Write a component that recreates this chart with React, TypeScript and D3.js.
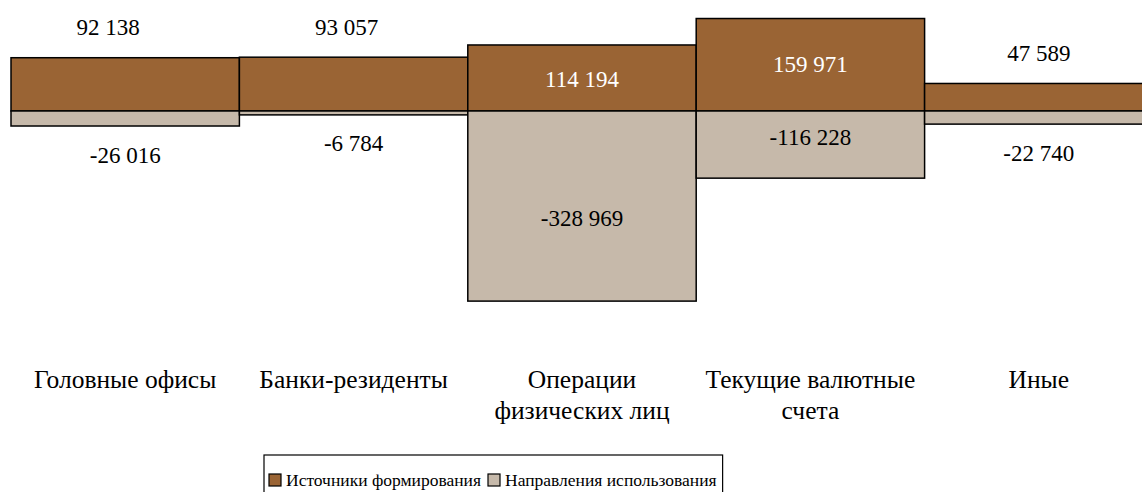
import React, { useLayoutEffect, useRef, useState } from "react";
import * as d3 from "d3";

const WIDTH = 1142;
const HEIGHT = 492;
const TXT = { fontFamily: "Liberation Serif" };

const categories = [
  ["Головные офисы"],
  ["Банки-резиденты"],
  ["Операции", "физических лиц"],
  ["Текущие валютные", "счета"],
  ["Иные"],
];
const sources = [92138, 93057, 114194, 159971, 47589];
const uses = [-26016, -6784, -328969, -116228, -22740];
const seriesNames = ["Источники формирования", "Направления использования"];
const COLORS = ["#9a6434", "#c6b9aa"];

// hand-moved data labels in the original chart: [series, index] -> [dx, dy]
const LABEL_NUDGE: Record<string, [number, number]> = {
  "0-0": [-17, 0],
  "0-1": [-7, 0],
  "0-2": [0, 2],
  "1-2": [0, 12],
  "1-3": [0, -7],
};

const ru = d3.formatLocale({
  decimal: ",",
  thousands: " ",
  grouping: [3],
  currency: ["", ""],
  minus: "-",
});
const fmt = ru.format(",d");

export default function App() {
  const keys = categories.map((c) => c.join(" "));
  const x = d3.scaleBand().domain(keys).range([11, 1153]).padding(0);
  const y = d3.scaleLinear().domain([-330000, 160000]).range([301.7, 18.5]);

  const itemRefs = useRef<(SVGTextElement | null)[]>([]);
  const [textW, setTextW] = useState([180, 200]);
  useLayoutEffect(() => {
    setTextW(itemRefs.current.map((t) => (t ? t.getComputedTextLength() : 200)));
  }, []);

  const bars = [sources, uses].map((vals, si) =>
    vals.map((v, i) => {
      const x0 = x(keys[i])!;
      const y0 = y(Math.max(0, v));
      const y1 = y(Math.min(0, v));
      return (
        <rect
          key={si + "-" + i}
          x={x0}
          y={y0}
          width={x.bandwidth()}
          height={y1 - y0}
          fill={COLORS[si]}
          stroke="#000"
          strokeWidth={1.5}
        />
      );
    })
  );

  const labels = [sources, uses].map((vals, si) =>
    vals.map((v, i) => {
      const [dx, dy] = LABEL_NUDGE[si + "-" + i] || [0, 0];
      const cx = x(keys[i])! + x.bandwidth() / 2 + dx;
      const inside = Math.abs(v) > 100000;
      let ty: number;
      if (inside) ty = (y(0) + y(v)) / 2;
      else ty = v > 0 ? y(v) - 30 : y(v) + 29;
      return (
        <text
          key={si + "-" + i}
          x={cx}
          y={ty + dy}
          textAnchor="middle"
          dominantBaseline="central"
          fontSize={23}
          style={TXT}
          fill={inside && si === 0 ? "#fff" : "#000"}
        >
          {fmt(v)}
        </text>
      );
    })
  );

  const catLabels = categories.map((lines, i) => (
    <text
      key={i}
      x={x(keys[i])! + x.bandwidth() / 2}
      y={388}
      textAnchor="middle"
      fontSize={25.5}
      style={TXT}
    >
      {lines.map((l, j) => (
        <tspan key={j} x={x(keys[i])! + x.bandwidth() / 2} dy={j === 0 ? 0 : 31}>
          {l}
        </tspan>
      ))}
    </text>
  ));

  const legendX = 264;
  const legendY = 455;
  const gap = 7;
  const sq = 12;
  const item0W = sq + 5 + textW[0];
  const legendW = 5 + item0W + gap + sq + 5 + textW[1] + 6;

  return (
    <svg
      width={WIDTH}
      height={HEIGHT}
      style={{ position: "absolute", left: 0, top: 0, background: "#fff" }}
    >
      {bars}
      {labels}
      {catLabels}
      <rect
        x={legendX}
        y={legendY}
        width={legendW}
        height={60}
        fill="none"
        stroke="#000"
        strokeWidth={1.2}
      />
      <g transform={`translate(${legendX + 5},${legendY + 25})`}>
        {seriesNames.map((name, i) => {
          const off = i === 0 ? 0 : item0W + gap;
          return (
            <g key={i} transform={`translate(${off},0)`}>
              <rect x={0} y={-6} width={sq} height={sq} fill={COLORS[i]} stroke="#000" strokeWidth={1.2} />
              <text
                ref={(el) => {
                  itemRefs.current[i] = el;
                }}
                x={sq + 5}
                y={0}
                dominantBaseline="central"
                fontSize={17.5}
                style={TXT}
              >
                {name}
              </text>
            </g>
          );
        })}
      </g>
    </svg>
  );
}
